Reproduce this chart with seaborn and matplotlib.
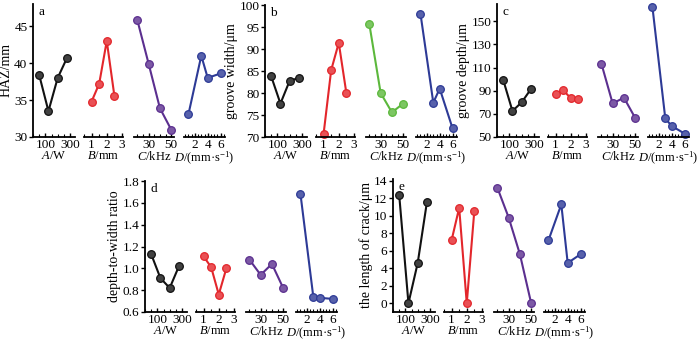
import matplotlib
matplotlib.use("Agg")
import matplotlib.pyplot as plt
import seaborn as sns
from matplotlib.colors import to_rgb
from matplotlib.ticker import FixedLocator, MultipleLocator

sns.set_style("ticks")
plt.rcParams["font.family"] = ["Liberation Serif", "DejaVu Serif"]
plt.rcParams["mathtext.fontset"] = "custom"
plt.rcParams["mathtext.rm"] = "Liberation Serif"
plt.rcParams["mathtext.it"] = "Liberation Serif:italic"
plt.rcParams["font.size"] = 9.5
plt.rcParams["text.color"] = "black"
plt.rcParams["axes.labelcolor"] = "black"
plt.rcParams["xtick.color"] = "black"
plt.rcParams["ytick.color"] = "black"

TICK_FS = 9.5
XLABEL_FS = 9
YLABEL_FS = 10

# factor levels
power_W = [50, 125, 200, 275]          # A
spacing_mm = [1.0, 1.5, 2.0, 2.5]      # B
freq_kHz = [20, 30, 40, 50]            # C
speed_mm_s = [1, 3, 4, 6]              # D

# mean responses per factor level (A, B, C, D)
haz_mm = [[38.4, 33.5, 38.0, 40.7],
          [34.8, 37.2, 43.0, 35.6],
          [45.8, 39.9, 33.9, 31.0],
          [33.1, 41.0, 38.0, 38.6]]
groove_width_um = [[83.8, 77.6, 82.8, 83.4],
                   [70.7, 85.2, 91.4, 80.0],
                   [95.6, 80.0, 75.6, 77.6],
                   [98.0, 77.8, 81.0, 72.0]]
groove_depth_um = [[99.5, 72.5, 80.0, 91.5],
                   [87.5, 90.5, 83.5, 82.5],
                   [113.5, 79.0, 84.0, 66.5],
                   [162.0, 66.0, 59.5, 53.0]]
depth_width_ratio = [[1.13, 0.91, 0.82, 1.02],
                     [1.11, 1.01, 0.76, 1.00],
                     [1.08, 0.94, 1.04, 0.82],
                     [1.68, 0.74, 0.73, 0.72]]
crack_length_um = [[12.4, 0.0, 4.6, 11.6],
                   [7.2, 10.9, 0.0, 10.6],
                   [13.2, 9.8, 5.6, 0.0],
                   [7.2, 11.3, 4.6, 5.6]]

factor_levels = [power_W, spacing_mm, freq_kHz, speed_mm_s]
factor_labels = [r"$\mathit{A}$/W", r"$\mathit{B}$/mm", r"$\mathit{C}$/kHz",
                 r"$\mathit{D}$/(mm·$\mathrm{s}^{-1}$)"]
factor_xlims = [(0, 340), (0.5, 3.07), (17, 52.5), (0.3, 6.7)]
factor_major = [[100, 300], [1, 2, 3], [30, 50], [2, 4, 6]]
factor_minor = [50, 0.5, 5, 0.5]

BLACK = "#111111"
RED = "#e3262b"
PURPLE = "#5b2f8f"
GREEN = "#5cb83c"
BLUE = "#2d3a96"

W, H = 700, 342
fig = plt.figure(figsize=(W / 100, H / 100), dpi=100)

# horizontal extent of each factor segment within a panel (pixels)
segments = [(0, 42), (51, 90), (101, 141), (151, 192)]


def lighten(c, f=0.2):
    r, g, b = to_rgb(c)
    return (r + (1 - r) * f, g + (1 - g) * f, b + (1 - b) * f)


def panel(left, bottom, top, data, ylim, yticks, ylabel, letter, colors):
    axes = []
    first = None
    for i, (s0, s1) in enumerate(segments):
        rect = [(left + s0) / W, (H - bottom) / H, (s1 - s0) / W, (bottom - top) / H]
        ax = fig.add_axes(rect, sharey=first) if first else fig.add_axes(rect)
        if first is None:
            first = ax
        col = colors[i]
        sns.lineplot(x=factor_levels[i], y=data[i], ax=ax, color=col,
                     linewidth=1.5, marker="o", markersize=5.5,
                     markerfacecolor=lighten(col), markeredgecolor=col,
                     markeredgewidth=0.9, clip_on=False)
        ax.set_xlim(*factor_xlims[i])
        ax.xaxis.set_major_locator(FixedLocator(factor_major[i]))
        ax.xaxis.set_minor_locator(MultipleLocator(factor_minor[i]))
        ax.tick_params(axis="x", which="major", direction="in", length=3,
                       width=1.0, pad=1.5, labelsize=TICK_FS)
        ax.tick_params(axis="x", which="minor", direction="in", length=2,
                       width=0.8)
        ax.set_xlabel(factor_labels[i], labelpad=-0.5, fontsize=XLABEL_FS)
        ax.set_ylabel("")
        for side in ("top", "right"):
            ax.spines[side].set_visible(False)
        ax.spines["bottom"].set_linewidth(1.3)
        ax.spines["bottom"].set_color("black")
        ax.patch.set_alpha(0)
        if i == 0:
            ax.spines["left"].set_linewidth(1.3)
            ax.spines["left"].set_color("black")
            ax.tick_params(axis="y", direction="out", length=3, width=1.0,
                           pad=1, labelsize=TICK_FS)
            ax.set_ylim(*ylim)
            ax.set_yticks(yticks)
            ax.set_ylabel(ylabel, labelpad=1, fontsize=YLABEL_FS)
            ax.text(0.12, 0.985, letter, transform=ax.transAxes, va="top",
                    ha="left", fontsize=TICK_FS)
        else:
            ax.spines["left"].set_visible(False)
            ax.tick_params(axis="y", left=False, labelleft=False)
        axes.append(ax)
    return axes


std_colors = [BLACK, RED, PURPLE, BLUE]

panel(33, 137, 4, haz_mm, (30, 48), [30, 35, 40, 45], "HAZ/mm", "a", std_colors)
panel(265, 137, 5, groove_width_um, (70, 100), [70, 75, 80, 85, 90, 95, 100],
      "groove width/μm", "b", [BLACK, RED, GREEN, BLUE])
panel(497, 137, 4, groove_depth_um, (50, 165), [50, 70, 90, 110, 130, 150],
      "groove depth/μm", "c", std_colors)
panel(145, 312, 181, depth_width_ratio, (0.6, 1.8),
      [0.6, 0.8, 1.0, 1.2, 1.4, 1.6, 1.8], "depth-to-width ratio", "d", std_colors)
panel(393, 312, 179, crack_length_um, (-1, 14.2), [0, 2, 4, 6, 8, 10, 12, 14],
      "the length of crack/μm", "e", std_colors)

fig.savefig("out.png", dpi=100)
